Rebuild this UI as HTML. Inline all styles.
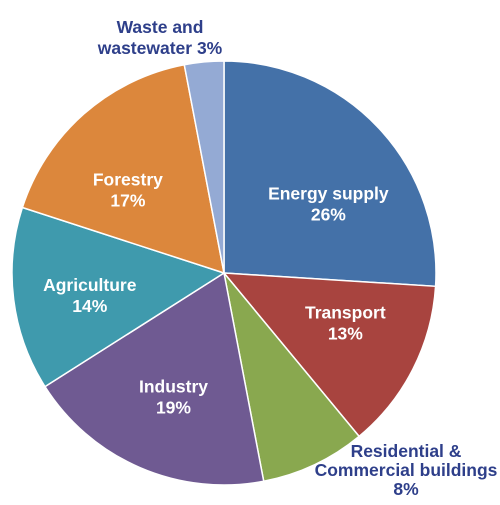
<!DOCTYPE html>
<html><head><meta charset="utf-8">
<style>
html,body{margin:0;padding:0;background:#fff;}
svg text{font-family:"Liberation Sans",sans-serif;font-weight:bold;font-size:17.5px;text-anchor:middle;}
</style></head>
<body>
<svg id="chart" width="500" height="500" viewBox="0 0 500 500">
<g id="slices"></g>
<g id="labels"></g>
</svg>
<script>
const categories = ["Energy supply","Transport","Residential & Commercial buildings","Industry","Agriculture","Forestry","Waste and wastewater"];
const values = [26,13,8,19,14,17,3];
const colors = ["#4471a8","#a8443f","#89a84f","#6f5a92","#3f9aad","#dc873c","#94aad4"];
const cx=224, cy=273, r=212;
const nudges=[[24,6],[8,-8],[0,0],[0,7],[-8,6],[-12,12],[0,0]];
const ns="http://www.w3.org/2000/svg";
const total = values.reduce((a,b)=>a+b,0);
const sg=document.getElementById('slices'), lg=document.getElementById('labels');
let acc=0;
function pt(frac,rad){const a=frac*2*Math.PI;return [cx+rad*Math.sin(a),cy-rad*Math.cos(a)];}
values.forEach((v,i)=>{
  const s=acc/total, e=(acc+v)/total; acc+=v;
  const [x1,y1]=pt(s,r),[x2,y2]=pt(e,r);
  const p=document.createElementNS(ns,'path');
  p.setAttribute('d',`M${cx},${cy}L${x1},${y1}A${r},${r} 0 ${e-s>0.5?1:0} 1 ${x2},${y2}Z`);
  p.setAttribute('fill',colors[i]);p.setAttribute('stroke','#fff');p.setAttribute('stroke-width','1.5');
  
  
  sg.appendChild(p);
  const mid=(s+e)/2;
  let lines, fill='#fff', lx, ly;
  if(i===2){lines=["Residential &","Commercial buildings",v+"%"];fill='#2e3f8a';lx=406;ly=457;}
  else if(i===6){lines=["Waste and","wastewater "+v+"%"];fill='#2e3f8a';lx=160;ly=33;}
  else{
    const [px,py]=pt(mid,r*(i===0?0.52:0.6));
    lx=px+nudges[i][0];ly=py-4+nudges[i][1];
    lines=[categories[i],v+"%"];
  }
  const t=document.createElementNS(ns,'text');
  t.setAttribute('fill',fill);
  
  
  lines.forEach((l,k)=>{
    const ts=document.createElementNS(ns,'tspan');
    ts.setAttribute('x',lx);ts.setAttribute('y',ly+k*(i===2?19:21));
    ts.textContent=l;t.appendChild(ts);
  });
  lg.appendChild(t);
});
</script>
</body></html>
